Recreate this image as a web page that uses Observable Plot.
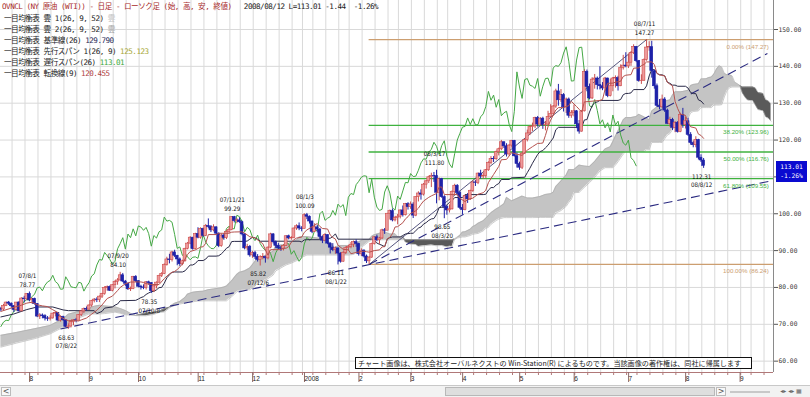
<!DOCTYPE html>
<html><head><meta charset="utf-8">
<script src="https://cdn.jsdelivr.net/npm/d3@7"></script>
<script src="https://cdn.jsdelivr.net/npm/@observablehq/plot@0.6"></script>
<style>
body{margin:0;background:#fff;width:810px;height:397px;overflow:hidden;position:relative;font-family:"Noto Sans CJK JP",sans-serif}
#chart{position:absolute;left:0;top:0}
.lg{position:absolute;left:4px;font-family:"DejaVu Sans Mono","Noto Sans CJK JP",monospace;font-size:7.6px;letter-spacing:-0.5px;line-height:11px;white-space:nowrap;color:#222}
#price{position:absolute;left:776px;width:31px;height:21px;background:#0a0ad0;color:#fff;font:6.3px "DejaVu Sans Mono",monospace;line-height:9.5px;padding-top:1px;box-sizing:border-box;text-align:center}
#copy{position:absolute;left:355px;top:357px;width:397px;height:12px;border:1px solid #111;background:#fff;font-size:7.1px;line-height:11px;white-space:nowrap;overflow:hidden;box-sizing:border-box;padding-left:2px;color:#222}
#sb{position:absolute;left:0;top:385px;width:810px;height:12px;background:#f2f2f2;border-top:1px solid #c8c8c8;box-sizing:border-box}
.sbx{position:absolute;top:1px;height:9px;box-sizing:border-box;font:8px "DejaVu Sans",sans-serif;line-height:8px;color:#555;text-align:center}
</style></head><body>
<div id="chart"></div>
<script>
// ---------- data ----------
const startDay = "2007-07-17";
const holidays = ["2007-09-03","2007-11-22","2007-12-25","2008-01-01","2008-01-21","2008-02-18","2008-03-21","2008-05-26","2008-07-04","2008-09-01"];
// daily candles [open, high, low, close]
const candles = [
[74.1,74.6,73.4,74.0],[74.0,75.4,73.7,75.0],[75.0,76.0,74.8,75.9],[75.9,76.2,75.1,75.6],[75.6,75.8,74.4,74.9],[74.9,75.1,73.2,73.9],[73.9,75.9,73.6,75.9],[75.9,76.2,73.3,73.5],[73.5,77.2,73.4,77.0],[77.0,77.6,75.8,76.8],[76.8,78.3,76.4,78.2],
[78.2,78.77,76.1,76.5],[76.5,77.1,75.5,76.9],[76.9,77.1,75.2,75.5],[75.5,75.6,71.8,72.1],[72.1,72.9,71.3,72.4],[72.4,72.8,71.5,72.2],[72.2,72.6,70.9,71.6],[71.6,72.1,70.8,71.5],[71.5,72.3,70.9,71.6],[71.6,73.0,71.4,72.9],[72.9,73.4,72.0,73.1],[73.1,73.2,70.8,71.0],[71.0,72.3,70.6,72.0],[72.0,72.2,70.8,71.1],[71.1,71.3,69.1,69.3],[69.3,70.1,68.63,69.4],[69.4,70.8,69.0,70.6],[70.6,71.3,69.6,71.1],[71.1,71.6,70.4,71.0],[71.0,72.6,70.9,72.5],[72.5,73.7,72.1,73.5],[73.5,74.4,72.9,74.1],[74.1,74.7,73.6,74.0],
[74.0,75.3,73.8,75.1],[75.1,76.5,74.6,76.3],[76.3,77.0,75.8,76.7],[76.7,77.2,75.9,76.6],[76.6,77.7,75.9,77.5],[77.5,78.4,77.0,78.2],[78.2,80.2,77.9,79.9],[79.9,80.4,79.0,80.1],[80.1,80.4,78.9,79.1],[79.1,80.7,78.8,80.6],[80.6,81.8,79.6,81.5],[81.5,82.4,80.6,81.9],[81.9,84.10,81.7,83.3],[83.3,83.8,81.3,81.6],[81.6,81.9,80.3,81.0],[81.0,81.2,79.2,79.5],[79.5,80.1,78.9,79.6],[79.6,83.0,79.4,82.9],[82.9,83.2,81.3,81.7],
[81.7,81.8,79.9,80.2],[80.2,80.6,79.3,80.0],[80.0,80.7,79.4,79.9],[79.9,81.6,79.3,81.4],[81.4,81.7,80.6,81.2],[81.2,81.3,78.35,79.0],[79.0,80.5,78.6,80.3],[80.3,81.5,79.6,81.3],[81.3,83.3,81.0,83.1],[83.1,84.0,82.7,83.7],[83.7,86.4,83.5,86.1],[86.1,88.2,85.8,87.6],[87.6,89.0,86.4,87.4],[87.4,89.8,86.9,89.5],[89.5,90.1,88.1,88.6],[88.6,88.7,85.9,87.6],[87.6,88.0,85.7,86.3],[86.3,87.4,85.9,87.1],[87.1,90.6,86.9,90.5],[90.5,92.2,90.2,91.9],[91.9,93.8,91.6,93.5],[93.5,93.6,90.1,90.4],[90.4,94.7,90.2,94.5],
[94.5,96.2,93.2,93.5],[93.5,96.2,93.1,95.9],[95.9,96.1,93.6,94.0],[94.0,97.1,93.8,96.7],[96.7,98.6,95.9,96.4],[96.4,96.8,94.9,95.5],[95.5,97.0,95.1,96.3],[96.3,96.5,94.2,94.6],[94.6,94.8,90.8,91.2],[91.2,94.5,90.9,94.1],[94.1,94.6,92.8,93.4],[93.4,95.4,93.0,95.1],[95.1,96.3,94.6,95.6],[95.6,99.2,95.4,99.1],[99.1,99.29,97.5,98.0],[98.0,98.7,97.3,98.2],[98.2,98.9,97.4,97.7],[97.7,98.0,94.0,94.4],[94.4,94.6,90.2,90.6],[90.6,91.7,90.0,91.0],[91.0,91.4,88.2,88.7],
[88.7,89.8,87.9,89.3],[89.3,89.8,87.6,88.3],[88.3,88.9,86.9,87.5],[87.5,88.6,85.82,88.2],[88.2,89.2,87.5,88.3],[88.3,88.5,86.6,87.9],[87.9,91.0,87.5,90.8],[90.8,94.7,90.5,94.4],[94.4,94.6,91.8,92.3],[92.3,92.6,90.5,91.3],[91.3,92.0,90.2,90.6],[90.6,91.2,89.8,90.5],[90.5,91.6,89.9,91.3],[91.3,94.0,91.1,93.9],[93.9,94.2,92.9,93.3],[93.3,93.8,92.8,93.4],[93.4,96.1,93.2,96.0],[96.0,97.0,95.5,96.6],[96.6,97.5,95.4,96.0],[96.0,96.5,95.1,95.9],
[95.9,100.0,95.9,99.6],[99.6,100.09,98.4,99.2],[99.2,99.4,97.2,97.9],[97.9,98.0,94.6,95.1],[95.1,97.3,94.9,96.3],[96.3,96.8,94.8,95.7],[95.7,96.0,93.0,93.7],[93.7,94.0,91.9,92.7],[92.7,94.6,92.4,94.2],[94.2,94.3,91.6,91.9],[91.9,92.1,89.1,90.8],[90.8,91.9,89.7,90.1],[90.1,91.0,89.0,90.6],[90.6,90.7,86.11,89.2],[89.2,89.4,86.6,87.0],[87.0,89.7,86.8,89.4],[89.4,91.0,88.9,90.7],[90.7,91.4,89.9,91.0],[91.0,92.2,90.5,91.6],[91.6,92.6,90.8,92.3],[92.3,92.9,90.9,91.8],
[91.8,92.0,88.5,89.0],[89.0,90.5,88.4,90.0],[90.0,90.2,88.0,88.4],[88.4,88.8,86.5,87.1],[87.1,88.4,86.24,88.1],[88.1,92.0,87.9,91.8],[91.8,93.8,91.5,93.6],[93.6,94.2,92.4,92.8],[92.8,93.6,91.7,93.3],[93.3,95.8,93.0,95.5],[95.5,96.0,94.4,95.4],[95.4,100.1,95.4,100.0],[100.0,101.0,98.3,100.7],[100.7,101.3,97.8,98.2],[98.2,99.3,97.8,98.8],[98.8,99.8,97.0,99.2],[99.2,101.0,98.6,100.9],[100.9,102.1,99.1,99.6],[99.6,102.8,99.4,102.6],[102.6,103.0,101.0,101.8],
[101.8,103.2,101.2,102.5],[102.5,103.0,98.7,99.5],[99.5,104.6,99.2,104.5],[104.5,105.97,103.2,105.5],[105.5,106.5,103.7,105.2],[105.2,108.2,104.8,107.9],[107.9,109.0,106.7,108.8],[108.8,110.2,108.2,109.9],[109.9,111.0,107.1,110.3],[110.3,111.2,108.5,110.2],[110.2,111.80,102.7,105.7],[105.7,109.7,103.5,109.4],[109.4,109.6,104.2,104.5],[104.5,104.9,98.65,101.8],[101.8,102.2,99.6,100.9],[100.9,102.4,100.2,101.2],[101.2,106.2,101.0,105.9],[105.9,108.0,105.1,107.6],[107.6,107.9,104.9,105.6],[105.6,106.1,101.1,101.6],
[101.6,102.5,99.6,101.0],[101.0,105.0,100.8,104.8],[104.8,105.5,102.8,103.9],[103.9,106.4,103.6,106.2],[106.2,108.9,105.8,108.5],[108.5,109.0,107.4,108.4],[108.4,111.0,107.9,110.9],[110.9,111.8,109.4,110.1],[110.1,111.0,109.4,110.2],[110.2,112.0,109.6,111.8],[111.8,114.1,111.5,113.8],[113.8,115.5,113.3,114.9],[114.9,115.5,113.9,114.8],[114.8,117.0,114.5,116.7],[116.7,117.8,115.7,117.5],[117.5,119.9,117.1,119.4],[119.4,119.5,117.7,118.3],[118.3,119.0,115.4,116.1],[116.1,118.8,115.6,118.5],[118.5,119.9,117.8,119.8],[119.8,119.9,115.4,115.6],[115.6,116.5,112.4,113.5],
[113.5,114.0,111.8,112.5],[112.5,116.6,112.0,116.3],[116.3,120.2,116.1,120.0],[120.0,122.7,119.5,121.8],[121.8,123.9,121.2,123.5],[123.5,124.6,122.3,123.7],[123.7,126.2,123.1,126.0],[126.0,126.4,123.5,124.2],[124.2,126.1,123.7,125.8],[125.8,126.2,122.9,124.1],[124.1,125.0,122.5,124.2],[124.2,127.8,123.6,126.3],[126.3,129.6,126.1,127.1],[127.1,129.4,126.5,129.1],[129.1,133.8,128.6,133.2],[133.2,135.1,129.2,130.8],[130.8,133.7,130.2,132.2],[132.2,132.6,127.6,128.9],[128.9,131.4,127.2,131.0],[131.0,131.4,125.9,126.6],[126.6,128.0,125.9,127.4],
[127.4,129.5,126.3,127.8],[127.8,128.0,123.1,124.3],[124.3,125.3,121.6,122.3],[122.3,128.0,122.1,127.8],[127.8,139.1,127.6,138.5],[138.5,139.0,133.1,134.4],[134.4,135.2,130.9,131.3],[131.3,136.9,131.0,136.4],[136.4,137.8,133.8,136.7],[136.7,137.1,133.6,134.9],[134.9,139.9,133.6,134.6],[134.6,135.6,133.4,134.0],[134.0,137.0,133.2,136.7],[136.7,136.8,131.5,131.9],[131.9,136.5,131.7,134.6],[134.6,137.0,133.1,136.7],[136.7,137.4,134.1,136.8],[136.8,137.3,133.3,134.6],[134.6,140.4,134.5,139.6],[139.6,142.99,139.0,140.2],[140.2,143.7,139.6,140.0],
[140.0,143.3,139.4,141.0],[141.0,144.0,140.0,143.6],[143.6,145.85,143.2,145.3],[145.3,145.4,141.0,141.4],[141.4,141.6,135.7,136.0],[136.0,137.7,135.1,136.1],[136.1,142.0,135.9,141.7],[141.7,147.27,141.4,145.1],[145.1,146.7,144.1,145.2],[145.2,146.8,136.8,138.7],[138.7,139.0,133.8,134.6],[134.6,135.2,128.9,129.3],[129.3,131.0,128.2,128.9],[128.9,132.2,128.5,131.0],[131.0,131.5,127.5,128.0],[128.0,128.4,124.2,124.4],[124.4,126.2,123.5,125.5],[125.5,125.9,122.6,123.3],[123.3,125.0,122.0,124.7],[124.7,125.0,121.9,122.2],[122.2,127.3,122.0,126.8],[126.8,128.6,123.2,124.1],
[124.1,126.2,123.0,125.1],[125.1,125.9,121.0,121.4],[121.4,122.0,118.6,119.2],[119.2,119.7,117.9,118.6],[118.6,120.9,117.9,120.0],[120.0,120.2,114.6,115.2],[115.2,116.0,113.9,114.45],[114.45,115.0,112.31,113.01]
];
// 基準線(26) [trading-day index, value]
const kijun = [[0,72.0],[5,72.8],[10,74.0],[14,74.7],[20,74.7],[24,73.9],[26,73.7],[36,73.7],[37,72.9],[39,73.5],[40,74.4],[43,74.7],[44,75.2],[45,75.5],[46,76.4],[52,76.5],[53,76.85],[54,77.25],[55,77.5],[56,78.1],[57,78.5],[58,78.85],[59,78.95],[60,79.35],[61,79.95],[62,80.0],[63,81.15],[64,82.6],[65,83.45],[66,84.1],[67,84.2],[70,84.2],[71,84.5],[72,85.3],[73,86.1],[74,86.1],[75,86.5],[76,87.3],[78,87.3],[79,87.7],[80,88.5],[83,88.5],[84,88.6],[85,89.1],[86,89.8],[87,90.65],[88,91.05],[89,92.45],[90,92.5],[94,92.5],[95,92.6],[96,93.1],[97,93.6],[98,93.45],[99,93.1],[100,92.55],[115,92.55],[116,92.36],[117,92.9],[118,92.96],[125,92.96],[126,93.35],[127,93.35],[128,93.8],[129,94.55],[130,93.1],[143,93.1],[144,92.75],[145,92.05],[146,91.7],[147,91.45],[148,91.05],[149,93.1],[150,93.55],[151,93.7],[154,93.7],[155,94.1],[156,94.5],[157,94.6],[158,94.7],[159,94.7],[160,95.4],[161,96.1],[162,96.4],[163,97.2],[164,97.6],[165,98.2],[166,98.6],[167,98.7],[168,99.85],[169,101.65],[170,101.75],[171,101.75],[172,102.4],[173,103.1],[174,103.6],[175,104.4],[178,104.4],[179,105.2],[186,105.2],[187,105.3],[188,106.4],[189,107.1],[190,107.1],[191,107.8],[192,108.2],[193,109.3],[196,109.3],[197,109.75],[202,109.9],[203,111.15],[204,112.35],[205,113.7],[206,114.9],[207,116.1],[208,116.9],[209,117.15],[210,117.9],[211,118.6],[212,119.6],[213,120.55],[214,122.8],[215,123.45],[224,123.45],[225,125.45],[226,125.55],[227,127.6],[228,129.3],[229,130.15],[230,130.35],[231,130.75],[238,130.75],[239,131.0],[240,132.3],[241,132.65],[242,132.65],[243,132.8],[244,133.7],[248,133.7],[249,134.7],[250,137.4],[251,139.1],[252,139.1],[253,138.1],[254,137.7],[255,137.7],[256,137.4],[257,135.7],[258,135.4],[259,134.9],[260,134.9],[261,134.6],[264,134.6],[265,134.1],[266,132.9],[267,132.6],[268,132.6],[269,130.9],[270,130.6],[271,129.79]];
// 転換線(9)
const tenkan = [[0,73.5],[4,74.4],[8,75.2],[10,75.75],[12,76.0],[14,75.3],[16,75.0],[18,74.8],[20,73.95],[22,73.2],[23,72.0],[25,71.25],[26,71.0],[28,71.0],[30,70.9],[31,71.2],[33,71.7],[35,72.75],[37,73.8],[39,75.25],[41,77.0],[43,77.65],[45,79.15],[46,80.0],[48,81.0],[50,81.45],[52,81.5],[54,81.5],[55,81.35],[56,81.05],[58,80.8],[61,80.8],[63,82.4],[65,83.7],[66,84.1],[67,84.35],[68,84.85],[69,85.55],[70,86.4],[72,88.95],[73,89.75],[75,90.2],[77,90.95],[78,91.05],[79,92.0],[80,94.35],[83,94.35],[84,94.7],[88,94.7],[89,95.0],[90,95.05],[93,95.1],[94,94.75],[96,93.75],[98,93.45],[99,92.9],[100,92.36],[101,91.9],[102,90.2],[103,88.76],[104,90.26],[108,90.26],[109,90.65],[110,90.65],[111,91.1],[112,92.25],[113,92.95],[114,93.4],[116,93.65],[117,94.95],[118,95.6],[120,96.45],[122,97.35],[123,96.55],[124,96.0],[126,95.85],[127,94.25],[128,93.55],[129,93.15],[130,91.45],[132,90.35],[134,90.2],[135,89.15],[137,89.5],[139,89.75],[140,89.85],[141,89.7],[142,89.57],[144,90.0],[146,90.2],[147,91.0],[148,91.1],[149,93.2],[150,93.6],[151,94.6],[152,96.4],[153,96.5],[155,97.55],[156,98.6],[157,99.2],[158,100.1],[160,100.8],[161,101.5],[162,102.55],[163,103.45],[165,104.45],[166,104.85],[168,105.5],[169,107.25],[170,107.25],[171,105.2],[176,105.2],[177,104.2],[179,103.3],[180,103.8],[182,104.25],[184,105.3],[186,105.7],[187,106.4],[188,108.45],[190,110.65],[192,112.85],[193,114.65],[195,114.75],[197,116.6],[199,116.15],[201,115.85],[203,117.25],[205,118.2],[207,119.1],[208,119.1],[209,119.2],[210,121.25],[211,123.65],[212,125.4],[214,128.15],[215,128.8],[217,128.8],[219,129.35],[220,130.5],[222,129.1],[223,128.35],[224,127.65],[225,130.35],[231,130.75],[232,131.0],[233,133.75],[234,135.4],[236,135.45],[237,135.7],[239,135.95],[240,137.25],[241,137.6],[243,137.75],[244,139.5],[246,139.6],[247,140.2],[248,140.5],[249,141.2],[251,141.2],[252,140.5],[253,138.1],[254,137.7],[256,137.4],[257,135.7],[258,135.15],[259,134.7],[260,130.5],[261,128.55],[262,127.05],[264,126.7],[265,124.8],[266,123.6],[268,123.25],[269,121.6],[270,121.25],[271,120.455]];
// 雲: [plotted index, 先行スパン1, 先行スパン2]
const cloud = [[0,67.0,63.8],[6,67.8,64.9],[13,68.8,66.1],[19,69.7,67.4],[24,71.5,69.2],[26,72.75,69.8],[30,73.5,71.7],[34,74.35,72.8],[36,74.9,72.8],[38,75.15,72.8],[40,75.0,72.9],[44,74.75,73.3],[46,74.3,73.0],[48,73.75,72.6],[51,72.6,72.4],[52,72.35,72.4],[56,72.3,73.1],[59,72.7,73.3],[61,73.2,73.5],[63,73.35,74.2],[65,74.4,74.6],[67,75.7,75.1],[69,76.2,75.5],[71,77.3,75.8],[72,78.2,75.9],[74,78.7,76.1],[76,78.9,76.3],[78,79.0,76.37],[80,79.4,76.37],[82,79.6,76.37],[84,79.8,76.37],[86,80.1,76.37],[87,80.4,76.37],[89,81.8,77.5],[91,83.6,78.8],[92,84.1,79.2],[94,84.5,79.37],[96,85.3,79.37],[98,87.1,80.4],[99,87.9,81.2],[101,88.35,81.67],[103,89.1,82.4],[105,89.85,83.35],[106,91.4,84.5],[110,91.65,86.1],[112,92.25,86.6],[114,92.9,87.25],[115,93.7,87.55],[116,93.8,88.15],[118,93.8,88.8],[120,93.6,88.8],[122,93.4,88.8],[124,93.45,88.8],[126,92.45,88.8],[127,92.2,88.8],[128,91.4,88.8],[129,90.65,88.8],[130,91.4,88.8],[134,91.4,88.8],[136,91.6,88.95],[137,91.8,89.45],[138,92.4,90.15],[139,92.75,91.0],[140,93.0,91.4],[142,93.0,92.5],[143,93.9,92.85],[144,94.3,92.9],[146,94.7,92.9],[148,95.15,92.95],[149,94.75,92.95],[150,94.5,92.95],[152,94.6,92.95],[153,93.8,92.95],[154,93.7,92.95],[155,93.85,92.95],[156,92.3,92.95],[158,91.7,92.95],[160,91.65,92.95],[161,91.1,92.95],[163,91.3,92.95],[166,91.5,92.95],[168,91.3,92.95],[170,91.4,92.95],[172,90.95,92.95],[173,91.2,92.95],[174,91.1,92.95],[175,93.15,92.96],[176,93.6,93.4],[177,94.15,93.56],[178,95.05,93.7],[179,95.1,93.7],[181,95.8,94.1],[182,96.55,94.45],[183,96.85,94.55],[184,97.4,94.65],[186,98.1,95.35],[187,98.8,96.04],[188,99.5,96.3],[189,100.3,97.15],[191,101.3,98.15],[192,101.7,98.55],[194,102.7,98.95],[195,104.45,98.95],[197,103.5,98.95],[199,104.15,98.95],[201,104.8,98.95],[203,104.3,98.95],[205,104.25,98.95],[208,104.7,99.0],[210,105.25,99.0],[212,105.45,99.0],[213,105.85,99.0],[214,107.4,100.17],[216,108.9,100.87],[218,110.5,102.0],[219,112.0,103.07],[220,112.0,103.9],[221,112.0,105.7],[223,113.2,105.8],[225,112.95,107.15],[227,112.8,108.45],[229,114.2,109.85],[231,115.95,111.6],[233,117.6,112.5],[235,118.2,112.5],[236,119.6,112.5],[237,121.1,113.2],[238,122.5,114.1],[240,125.5,116.2],[241,126.1,116.9],[243,126.1,116.9],[245,126.4,116.9],[246,127.0,116.9],[248,126.3,116.9],[249,125.9,117.35],[250,125.55,117.35],[251,127.9,119.35],[253,129.0,119.35],[254,129.8,119.35],[255,130.25,119.35],[257,130.75,121.35],[258,130.9,121.75],[259,132.25,122.85],[260,133.1,123.65],[262,133.1,124.65],[263,133.2,124.65],[265,133.5,125.95],[266,134.8,127.4],[267,135.1,127.75],[269,135.3,127.9],[270,136.6,128.8],[272,136.65,128.8],[273,136.95,128.8],[274,137.1,128.8],[275,137.95,129.5],[276,139.3,129.5],[277,140.15,129.5],[278,139.8,129.6],[279,138.1,131.7],[280,137.7,133.4],[281,137.7,134.2],[282,137.4,134.4],[283,135.7,134.4],[284,135.3,134.4],[285,134.8,134.4],[286,132.7,134.4],[287,131.6,134.4],[288,130.8,134.4],[290,130.65,134.4],[291,129.45,134.1],[292,128.25,132.9],[294,127.9,132.6],[295,126.25,130.9],[296,125.9,130.6],[297,125.12,129.79]];
const chikouShift = 26;
// Fibonacci retracement (anchored at the 2008/2/7 low)
const fibAnchor = 142;
const fibPct = ["0.00%","38.20%","50.00%","61.80%","100.00%"];
const fibValue = [147.27,123.96,116.76,109.55,86.24];
// drawn trend lines [index1, value1, index2, value2]
const dashedLines = [[23.0,68.73,297.6,109.0],[142,86.24,295.6,143.5]];
const solidLines = [[142,86.24,249,147.27]];
// high / low annotations [index, value, date]
const highNotes = [[11,78.77,"07/8/1"],[46,84.10,"07/9/20"],[90,99.29,"07/11/21"],[118,100.09,"08/1/3"],[168,111.80,"08/3/17"],[249,147.27,"08/7/11"]];
const lowNotes = [[26,68.63,"07/8/22"],[58,78.35,"07/10/8"],[100,85.82,"07/12/6"],[130,86.11,"08/1/22"],[171,98.65,"08/3/20"],[271,112.31,"08/8/12"]];
const yTicks = [60,70,80,90,100,110,120,130,140,150];
const last = {close:113.01, pct:"-1.26%"};

// ---------- trading-day calendar ----------
const days = [];
for (let d = new Date(startDay+"T00:00:00Z"); d <= new Date("2008-09-30T00:00:00Z"); d.setUTCDate(d.getUTCDate()+1)) {
  const dow = d.getUTCDay(); const s = d.toISOString().slice(0,10);
  if (dow===0 || dow===6 || holidays.includes(s)) continue;
  days.push(s);
}
const monthTicks = [], weekTicks = [];
for (let i = 1; i < days.length; i++) {
  const a = new Date(days[i-1]+"T00:00:00Z"), b = new Date(days[i]+"T00:00:00Z");
  if (a.getUTCMonth() !== b.getUTCMonth()) monthTicks.push({pos: i-0.7, label: b.getUTCMonth()===0 ? String(b.getUTCFullYear()) : String(b.getUTCMonth()+1)});
  if (b.getUTCDay() < a.getUTCDay() || (b - a) > 3*864e5) weekTicks.push(i+0.3);
}
const monthLabel = new Map(monthTicks.map(m => [m.pos, m.label]));

const rows = candles.map((d,i)=>({i, o:d[0], h:d[1], l:d[2], c:d[3], up:d[3]>=d[0]}));
const chikou = rows.filter(r=>r.i>=chikouShift).map(r=>({x:r.i-chikouShift, y:r.c}));
const cloudRows = cloud.map(([s,a,b])=>({s,a,b,top:Math.max(a,b)}));
const fibs = fibValue.map((v,k)=>({v, label:`${fibPct[k]} (${v.toFixed(2)})`, col: (k===0||k===4) ? "#cc9e70" : "#3fb23f"}));

const xMin = -0.154, xMax = 297.95, yMin = 56.92, yMax = 157.87;
const noteFont = "Liberation Sans Narrow, DejaVu Sans Condensed, Liberation Sans, sans-serif";

const chart = Plot.plot({
  width: 810, height: 385,
  marginTop: 0, marginLeft: 0, marginRight: 37, marginBottom: 13,
  x: {type:"linear", domain:[xMin, xMax]},
  y: {type:"linear", domain:[yMin, yMax]},
  color: {type:"identity"},
  style: {background:"#fff", overflow:"visible"},
  marks: [
    Plot.ruleY(yTicks, {stroke:"#d9d9d9", strokeWidth:1}),
    Plot.ruleX(weekTicks.filter(w=>w<xMax), {stroke:"#d9d9d9", strokeWidth:1}),
    Plot.areaY(cloudRows, {x:"s", y1:"b", y2:"top", fill:"#c4c4c4"}),
    Plot.areaY(cloudRows, {x:"s", y1:"a", y2:"top", fill:"#5a5a5a"}),
    Plot.line(cloudRows, {x:"s", y:"a", stroke:"#aaaaaa", strokeWidth:0.6}),
    Plot.line(cloudRows, {x:"s", y:"b", stroke:"#aaaaaa", strokeWidth:0.6}),
    Plot.ruleY(fibs, {y:"v", x1:fibAnchor, x2:xMax, stroke:"col", strokeWidth:1.3}),
    Plot.link(dashedLines, {x1:d=>d[0], y1:d=>d[1], x2:d=>d[2], y2:d=>d[3], stroke:"#2a2a80", strokeWidth:1.1, strokeDasharray:"9,5"}),
    Plot.link(solidLines, {x1:d=>d[0], y1:d=>d[1], x2:d=>d[2], y2:d=>d[3], stroke:"#2c2c60", strokeWidth:0.8}),
    Plot.line(chikou, {x:"x", y:"y", stroke:"#45a845", strokeWidth:1}),
    Plot.line(kijun, {x:d=>d[0], y:d=>d[1], stroke:"#2a2a48", strokeWidth:1}),
    Plot.ruleX(rows, {x:"i", y1:"l", y2:"h", stroke:d=>d.up?"#c85050":"#1e22a8", strokeWidth:1}),
    Plot.rect(rows, {x1:d=>d.i-0.55, x2:d=>d.i+0.55, y1:"o", y2:"c", fill:d=>d.up?"#ee9a9a":"#1e22a8", stroke:d=>d.up?"#cc4a4a":"#1e22a8", strokeWidth:0.6}),
    Plot.line(tenkan, {x:d=>d[0], y:d=>d[1], stroke:"#b5524e", strokeWidth:1}),
    Plot.text(fibs, {x:xMax-1.8, y:"v", text:"label", textAnchor:"end", dy:7, fill:"col", fontSize:6.2, fontFamily:"Liberation Sans, sans-serif"}),
    Plot.text(highNotes, {x:d=>d[0], y:d=>d[1], text:d=>d[2], dy:-16, dx:-2, fontSize:6.2, fill:"#111", fontFamily:noteFont}),
    Plot.text(highNotes, {x:d=>d[0], y:d=>d[1], text:d=>d[1].toFixed(2), dy:-7, dx:-2, fontSize:6.2, fill:"#111", fontFamily:noteFont}),
    Plot.text(lowNotes, {x:d=>d[0], y:d=>d[1], text:d=>d[1].toFixed(2), dy:8.5, dx:-2, fontSize:6.2, fill:"#111", fontFamily:noteFont}),
    Plot.text(lowNotes, {x:d=>d[0], y:d=>d[1], text:d=>d[2], dy:17, dx:-2, fontSize:6.2, fill:"#111", fontFamily:noteFont}),
    Plot.ruleX([xMax], {stroke:"#8a8a8a", strokeWidth:1}),
    Plot.ruleY([yMin], {stroke:"#b07878", strokeWidth:1}),
    Plot.axisY({anchor:"right", ticks:yTicks, tickFormat:d=>d.toFixed(2), tickSize:4, tickPadding:1, fontSize:6.3, fontFamily:"DejaVu Sans Mono, monospace", stroke:"#555", fill:"#333"}),
    Plot.axisX({ticks:weekTicks.filter(w=>w<xMax), tickSize:3, tickFormat:()=>"", stroke:"#b07878"}),
    Plot.axisX({ticks:monthTicks.map(m=>m.pos).filter(p=>p<xMax), tickSize:10, tickPadding:-6, tickFormat:p=>monthLabel.get(p), textAnchor:"start", dx:2, fontSize:6.5, fontFamily:"Liberation Sans, sans-serif", stroke:"#8c6a6a", fill:"#222"})
  ]
});
document.getElementById("chart").append(chart);

// price box on the right axis
const py = chart.scale("y").apply(last.close);
const box = document.createElement("div"); box.id = "price";
box.style.top = (py - 4.5) + "px";
box.innerHTML = last.close.toFixed(2) + "<br>" + last.pct;
document.body.append(box);
</script>
<div class="lg" style="top:1px;left:2px"><span style="color:#a82a2a">OVNCL (NY 原油 (WTI)) - 日足 - ローソク足 (始, 高, 安, 終値)</span>&nbsp;&nbsp;&nbsp;2008/08/12 L=113.01 -1.44 &nbsp;-1.26%</div>
<div class="lg" style="top:12.5px">一目均衡表 雲 1(26, 9, 52) <span style="color:#c4c4c4">雲</span></div>
<div class="lg" style="top:23.5px">一目均衡表 雲 2(26, 9, 52) <span style="color:#a8a8a8">雲</span></div>
<div class="lg" style="top:34.5px">一目均衡表 基準線(26) <span style="color:#2a2a58">129.790</span></div>
<div class="lg" style="top:46px">一目均衡表 先行スパン 1(26, 9) <span style="color:#a8a838">125.123</span></div>
<div class="lg" style="top:57px">一目均衡表 遅行スパン(26) <span style="color:#3aa83a">113.01</span></div>
<div class="lg" style="top:68px">一目均衡表 転換線(9) <span style="color:#b04444">120.455</span></div>
<div id="copy">チャート画像は、株式会社オーバルネクストの Win-Station(R) によるものです。当該画像の著作権は、同社に帰属します</div>
<div id="sb">
  <div class="sbx" style="left:1px;width:10px;border:1px solid #bbb;background:#f8f8f8">&lt;</div>
  <div class="sbx" style="left:445px;width:270px;border:1px solid #b8b8b8;background:#dedede"></div>
  <div class="sbx" style="left:716px;width:10px;border:1px solid #bbb;background:#f8f8f8">&gt;</div>
  <div class="sbx" style="left:730px;width:40px;top:5px;height:2px;background:#c8c8c8"></div>
  <div class="sbx" style="left:774px;width:34px;color:#666;font-size:6px">◂▸ ◂▸ ▦</div>
</div>
</body></html>
